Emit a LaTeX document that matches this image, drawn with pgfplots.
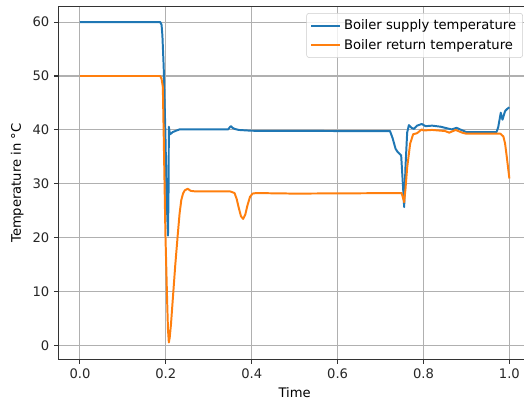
\documentclass[border=0pt]{standalone}
\usepackage{fontspec}
\setmainfont{DejaVu Sans}
\usepackage{pgfplots}
\pgfplotsset{compat=1.18}
\definecolor{mblue}{HTML}{1F77B4}
\definecolor{morange}{HTML}{FF7F0E}
\definecolor{mgrid}{HTML}{B0B0B0}
\definecolor{mleg}{HTML}{CCCCCC}
\begin{document}
\begin{tikzpicture}
\useasboundingbox (-44.5pt,-32.8pt) rectangle (354.2pt,273.3pt);
\begin{axis}[
  at={(0,0)}, anchor=south west,
  scale only axis, width=359.4pt, height=268pt,
  xmin=-0.05, xmax=1.05, ymin=-2.5, ymax=62.8,
  xtick={0,0.2,0.4,0.6,0.8,1.0},
  ytick={0,10,20,30,40,50,60},
  xticklabel style={/pgf/number format/.cd, fixed, fixed zerofill, precision=1},
  yticklabel style={/pgf/number format/.cd, fixed, precision=0},
  /pgf/number format/assume math mode=true,
  tick label style={font=\fontsize{10}{12}\selectfont, text=black!85},
  label style={font=\fontsize{10}{12}\selectfont},
  xlabel={Time}, ylabel={Temperature in °C},
  xtick pos=bottom, ytick pos=left,
  tick align=outside, major tick length=3.5pt,
  every tick/.style={black!80, line width=0.8pt},
  axis line style={black!80, line width=0.8pt},
  grid=major, major grid style={mgrid, line width=0.8pt},
  legend cell align=left,
  legend style={at={(1,1)}, anchor=north east, xshift=-6pt, yshift=-4.6pt,
    draw=mleg, rounded corners=2pt, fill=white, fill opacity=0.8, text opacity=1,
    font=\fontsize{10}{12}\selectfont, inner xsep=3pt, inner ysep=3pt, row sep=1.5pt},
  legend image code/.code={\draw[#1, line width=1.5pt] (0pt,0pt) -- (22pt,0pt);},
]
\addplot[mblue, line width=1.5pt, line join=round] coordinates {
(0,60) (0.187,60) (0.190,59.5) (0.192,57.5) (0.195,51.7) (0.199,39.3) (0.202,27)
(0.205,20.4) (0.2065,30) (0.207,40.6) (0.209,39.5) (0.210,39.2) (0.216,39.6)
(0.225,39.9) (0.232,40.1) (0.30,40.1) (0.345,40.1) (0.350,40.6) (0.352,40.7)
(0.355,40.4) (0.36,40.2) (0.37,40.0) (0.40,39.85) (0.6,39.8) (0.722,39.8)
(0.728,38.5) (0.735,36.5) (0.740,35.9) (0.748,35.3) (0.752,30) (0.755,25.7)
(0.758,33) (0.762,39.5) (0.766,40.9) (0.772,40.4) (0.778,40.2) (0.785,40.8)
(0.796,41.1) (0.805,40.7) (0.82,40.8) (0.84,40.6) (0.855,40.3) (0.866,40.1)
(0.877,40.4) (0.888,40.0) (0.9,39.6) (0.97,39.6) (0.974,40.5) (0.980,43.2)
(0.984,41.9) (0.990,43.5) (0.995,43.9) (1.0,44.2)
};
\addlegendentry{Boiler supply temperature}
\addplot[morange, line width=1.5pt, line join=round] coordinates {
(0,50) (0.187,50) (0.190,49.5) (0.193,48) (0.195,39.3) (0.199,20.8) (0.203,8.4)
(0.205,3) (0.207,0.6) (0.209,1.5) (0.212,4) (0.216,8.4) (0.222,15) (0.228,20.8)
(0.232,24.5) (0.236,27) (0.240,28.2) (0.244,28.8) (0.251,29.1) (0.258,28.7)
(0.27,28.6) (0.35,28.6) (0.36,28.3) (0.365,27.2) (0.370,25.5) (0.375,24)
(0.380,23.5) (0.385,24.3) (0.390,26) (0.396,27.6) (0.402,28.2) (0.41,28.3)
(0.5,28.2) (0.749,28.3) (0.752,27.5) (0.755,26.6) (0.758,29) (0.762,33)
(0.769,37.5) (0.776,39.2) (0.785,39.4) (0.796,40.1) (0.80,39.9) (0.82,40.0)
(0.85,39.8) (0.86,39.5) (0.875,40.0) (0.89,39.5) (0.9,39.3) (0.979,39.3)
(0.986,38.8) (0.990,37.5) (0.994,35.0) (1.0,31.0)
};
\addlegendentry{Boiler return temperature}
\end{axis}
\end{tikzpicture}
\end{document}
